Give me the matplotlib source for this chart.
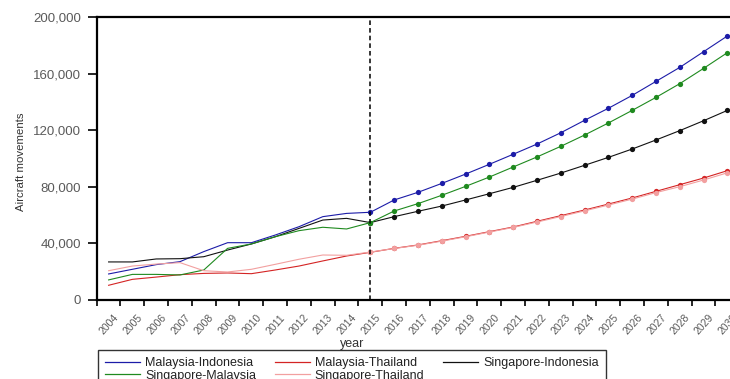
import matplotlib
matplotlib.use("Agg")
import matplotlib.pyplot as plt
from matplotlib.lines import Line2D
from matplotlib.transforms import ScaledTranslation

years = list(range(2004, 2031))
forecast_start = 2015

malaysia_indonesia = [18400, 21700, 25000, 27100, 34200, 40500, 40500, 45900, 51800, 58900, 61200, 62000,
                      70700, 76100, 82400, 89000, 95900, 103000, 110200, 118200, 127000, 135500, 144600,
                      154500, 164400, 175500, 186600]
malaysia_thailand = [10400, 14600, 16200, 17900, 18800, 19100, 18600, 21200, 24000, 27600, 31100, 33700,
                     36500, 38900, 41900, 45000, 48300, 51600, 55600, 59600, 63600, 67800, 72100,
                     76800, 81500, 86200, 91400]
singapore_indonesia = [26900, 26900, 29000, 29200, 30600, 35300, 39600, 44700, 50600, 56500, 57700, 54700,
                       58900, 62700, 66400, 70700, 75100, 79600, 84600, 89700, 95200, 100800, 106700,
                       113100, 119700, 126700, 134000]
singapore_malaysia = [14200, 18100, 18100, 17700, 21200, 36500, 39600, 44700, 49000, 51400, 50200, 54700,
                      62900, 68100, 74000, 80300, 86900, 94000, 101100, 108600, 116600, 125100, 134000,
                      143200, 152900, 163700, 174800]
singapore_thailand = [20700, 24000, 25400, 26400, 20700, 19800, 21700, 25200, 28800, 31800, 31600, 33900,
                      36400, 38700, 41600, 44700, 48000, 51300, 55100, 59000, 63000, 67100, 71300,
                      75900, 80100, 84800, 89900]

series_names = ["Malaysia-Indonesia", "Malaysia-Thailand", "Singapore-Indonesia",
                "Singapore-Malaysia", "Singapore-Thailand"]
series_values = [malaysia_indonesia, malaysia_thailand, singapore_indonesia,
                 singapore_malaysia, singapore_thailand]
series_colors = ["#1c1ca8", "#d42424", "#111111", "#1f8a1f", "#f2a0a0"]
y_ticks = [0, 40000, 80000, 120000, 160000, 200000]

plt.rcParams['font.family'] = ['Liberation Sans', 'DejaVu Sans']

W, H = 730, 379
fig = plt.figure(figsize=(W / 100, H / 100), dpi=100)
left_px, right_px, top_px, bot_px = 96.7, 739.3, 17, 300
ax = fig.add_axes([left_px / W, 1 - bot_px / H, (right_px - left_px) / W, (bot_px - top_px) / H])

split = years.index(forecast_start)
handles = {}
for name, vals, col in zip(series_names, series_values, series_colors):
    ax.plot(years[:split + 1], vals[:split + 1], color=col, lw=0.8)
    ax.plot(years[split:], vals[split:], color=col, lw=0.8, marker='o', markersize=3.8,
            markeredgewidth=0)
    handles[name] = Line2D([], [], color=col, lw=0.9)

ax.axvline(forecast_start, color='black', lw=1.1, ls=(0, (3, 2)))

ax.set_xlim(years[0] - 0.5, years[-1] + 0.5)
ax.set_ylim(y_ticks[0], y_ticks[-1])

ax.set_yticks(y_ticks)
ax.set_yticklabels([f"{v:,}" for v in y_ticks], fontsize=9.5, color='#5a5a5a')
ax.tick_params(axis='y', direction='out', length=6.5, width=1.2, pad=5)

ax.set_xticks(years)
ax.set_xticklabels([str(y) for y in years], rotation=48, ha='right', va='top',
                   fontsize=7.5, color='#5a5a5a')
ax.tick_params(axis='x', which='major', length=0, pad=9)
offset = ScaledTranslation(12 / 100, 0, fig.dpi_scale_trans)
for lab in ax.get_xticklabels():
    lab.set_transform(lab.get_transform() + offset)
ax.set_xticks([y - 0.5 for y in years] + [years[-1] + 0.5], minor=True)
ax.tick_params(axis='x', which='minor', direction='out', length=4.5, width=1.2)

for s in ['left', 'bottom', 'top', 'right']:
    ax.spines[s].set_linewidth(1.6)
    ax.spines[s].set_color('black')

fig.text(352 / W, 1 - 344 / H, 'year', ha='center', va='center', fontsize=9, color='#333333')
fig.text(21 / W, 1 - 162 / H, 'Aircraft movements', rotation=90, ha='center', va='center',
         fontsize=8.2, color='#333333')

order = ["Malaysia-Indonesia", "Singapore-Malaysia", "Malaysia-Thailand",
         "Singapore-Thailand", "Singapore-Indonesia"]
leg = fig.legend([handles[n] for n in order], order, loc='upper center',
                 bbox_to_anchor=(352 / W, 1 - 350 / H), ncol=3, fontsize=9,
                 frameon=True, fancybox=False, edgecolor='black', handlelength=2.8,
                 handletextpad=0.4, columnspacing=1.5, borderpad=0.55, labelspacing=0.05,
                 borderaxespad=0)
leg.get_frame().set_linewidth(1.0)
for t in leg.get_texts():
    t.set_color('#222222')

fig.savefig('out.png', dpi=100)
